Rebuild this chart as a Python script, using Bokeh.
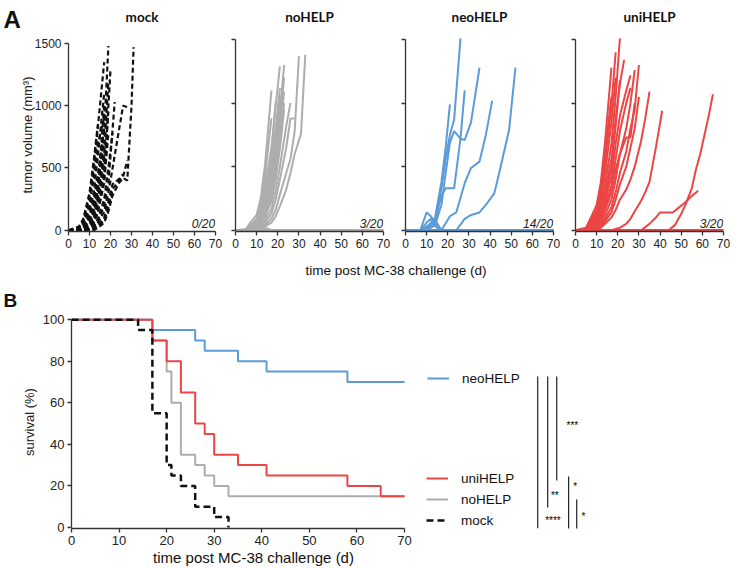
from bokeh.plotting import figure
from bokeh.layouts import row, column
from bokeh.models import Range1d, Label, Legend, LegendItem, FixedTicker
from bokeh.core.properties import value
from bokeh.embed import file_html
from bokeh.resources import INLINE

# ---------------- data: panel A (tumour growth, day / volume mm3) ----------------
group_names = ["mock", "noHELP", "neoHELP", "uniHELP"]
tumor_free = ["0/20", "3/20", "14/20", "3/20"]

mock_days = [
    [0, 5, 7, 10, 12, 14],
    [0, 5, 7, 10, 12, 14, 17],
    [0, 5, 7, 10, 12, 14, 17],
    [0, 5, 7, 10, 12, 14, 17],
    [0, 5, 7, 10, 12, 14, 17],
    [0, 5, 7, 10, 12, 14, 17],
    [0, 5, 7, 10, 12, 14, 17],
    [0, 5, 7, 10, 12, 14, 17],
    [0, 5, 7, 10, 12, 14, 17],
    [0, 5, 7, 10, 12, 14, 17, 19],
    [0, 5, 7, 10, 12, 14, 17, 19],
    [0, 5, 7, 10, 12, 14, 17, 19],
    [0, 5, 7, 10, 12, 14, 17, 19],
    [0, 5, 7, 10, 12, 14, 17, 20],
    [0, 5, 7, 10, 12, 14, 17, 19, 21],
    [0, 5, 7, 10, 12, 14, 17, 19, 22],
    [0, 5, 7, 10, 12, 14, 17, 19, 22, 24, 26, 28],
    [0, 5, 7, 10, 12, 14, 17, 19, 21, 24, 26],
    [0, 5, 7, 10, 12, 14, 17, 19, 21, 24, 26, 28],
    [0, 5, 7, 10, 12, 14, 17, 19, 21, 24, 26, 28, 30, 31],
]
mock_vols = [
    [0, 30, 90, 300, 560, 850],
    [0, 20, 70, 260, 500, 830, 1350],
    [0, 10, 40, 160, 300, 600, 1100],
    [0, 10, 60, 200, 420, 700, 900],
    [0, 0, 30, 120, 250, 450, 820],
    [0, 0, 20, 100, 220, 380, 700],
    [0, 5, 25, 80, 170, 330, 1000],
    [0, 0, 10, 60, 140, 300, 620],
    [0, 0, 0, 40, 100, 250, 560],
    [0, 0, 15, 70, 160, 350, 800, 1480],
    [0, 0, 10, 50, 120, 260, 620, 1200],
    [0, 0, 0, 30, 90, 200, 480, 950],
    [0, 0, 5, 20, 60, 150, 380, 780],
    [0, 0, 0, 20, 60, 140, 420, 1290],
    [0, 0, 0, 10, 40, 90, 250, 500, 780],
    [0, 0, 0, 10, 30, 80, 200, 380, 1030],
    [0, 0, 0, 0, 20, 60, 150, 300, 600, 800, 1000, 990],
    [0, 0, 0, 0, 10, 40, 100, 230, 370, 410, 450],
    [0, 0, 0, 0, 10, 30, 80, 180, 330, 400, 430, 560],
    [0, 0, 0, 0, 0, 20, 60, 150, 280, 380, 420, 400, 1000, 1470],
]

nohelp_days = [
    [0, 5, 7, 10, 12, 14, 17, 70],
    [0, 5, 7, 10, 12, 14, 17, 70],
    [0, 70],
    [0, 5, 7, 10, 12, 14, 17],
    [0, 5, 7, 10, 12, 14, 17],
    [0, 5, 7, 10, 12, 14, 17, 19, 21],
    [0, 5, 7, 10, 12, 14, 17, 19],
    [0, 5, 7, 10, 12, 14, 17, 19, 21],
    [0, 5, 7, 10, 12, 14, 17, 19, 21],
    [0, 5, 7, 10, 12, 14, 17, 19, 21],
    [0, 5, 7, 10, 12, 14, 17, 19, 21],
    [0, 5, 7, 10, 12, 14, 17, 19, 21, 23],
    [0, 5, 7, 10, 12, 14, 17, 19, 21, 23],
    [0, 5, 7, 10, 12, 14, 17, 19, 21, 23],
    [0, 5, 7, 10, 12, 14, 17, 19, 21, 23],
    [0, 5, 7, 10, 12, 14, 17, 19, 21, 23],
    [0, 5, 7, 10, 12, 14, 17, 19, 21, 24, 26],
    [0, 5, 7, 10, 12, 14, 17, 19, 21, 24, 26, 28],
    [0, 5, 7, 10, 12, 14, 17, 19, 21, 24, 26, 28, 30],
    [0, 5, 7, 10, 12, 14, 17, 19, 21, 24, 26, 28, 31, 33],
]
nohelp_vols = [
    [0, 0, 40, 80, 50, 20, 0, 0],
    [0, 0, 20, 60, 30, 0, 0, 0],
    [0, 0],
    [0, 10, 60, 120, 260, 520, 1100],
    [0, 0, 40, 90, 200, 430, 880],
    [0, 0, 30, 80, 170, 340, 650, 980, 1290],
    [0, 0, 20, 70, 150, 300, 600, 1010],
    [0, 0, 20, 60, 140, 280, 520, 800, 1120],
    [0, 0, 10, 50, 120, 250, 480, 760, 1060],
    [0, 0, 0, 40, 100, 210, 420, 700, 980],
    [0, 0, 15, 60, 130, 240, 440, 650, 900],
    [0, 0, 10, 40, 90, 180, 360, 600, 930, 1300],
    [0, 0, 0, 30, 70, 150, 310, 540, 850, 1200],
    [0, 0, 10, 40, 80, 160, 320, 520, 780, 1090],
    [0, 0, 0, 20, 60, 130, 270, 460, 700, 1000],
    [0, 0, 0, 20, 50, 110, 230, 400, 640, 950],
    [0, 0, 0, 10, 40, 80, 170, 310, 500, 820, 1000],
    [0, 0, 0, 10, 30, 60, 130, 240, 400, 650, 880, 880],
    [0, 0, 0, 0, 20, 40, 90, 160, 280, 450, 560, 780, 1370],
    [0, 0, 0, 0, 10, 30, 60, 110, 190, 320, 450, 600, 760, 1380],
]

neohelp_days = [
    [0, 7, 10, 12, 14, 17, 70],
    [0, 7, 10, 12, 14, 17, 70],
    [0, 7, 10, 12, 14, 17, 70],
    [0, 70], [0, 70], [0, 70], [0, 70], [0, 70], [0, 70],
    [0, 70], [0, 70], [0, 70], [0, 70], [0, 70],
    [0, 7, 10, 12, 14, 17, 19, 21],
    [0, 7, 10, 12, 14, 17, 19, 21, 23, 26],
    [0, 7, 10, 12, 14, 17, 19, 21, 23, 26, 28],
    [0, 7, 10, 12, 14, 17, 19, 21, 23, 26, 28, 31, 35],
    [0, 17, 21, 24, 28, 31, 35, 38, 41],
    [0, 24, 28, 31, 35, 38, 42, 45, 49, 52],
]
neohelp_vols = [
    [0, 0, 140, 110, 60, 0, 0],
    [0, 0, 60, 90, 30, 0, 0],
    [0, 0, 30, 50, 80, 0, 0],
    [0, 0], [0, 0], [0, 0], [0, 0], [0, 0], [0, 0],
    [0, 0], [0, 0], [0, 0], [0, 0], [0, 0],
    [0, 0, 20, 60, 100, 380, 650, 990],
    [0, 0, 10, 40, 60, 330, 560, 750, 870, 1510],
    [0, 0, 10, 30, 80, 270, 330, 330, 330, 720, 1100],
    [0, 0, 0, 20, 40, 200, 450, 690, 780, 720, 710, 850, 1280],
    [0, 0, 110, 140, 370, 490, 540, 750, 1020],
    [0, 0, 90, 120, 140, 200, 290, 500, 790, 1280],
]

unihelp_days = [
    [0, 70], [0, 70], [0, 70],
    [0, 5, 7, 10, 12, 14, 17],
    [0, 5, 7, 10, 12, 14, 17],
    [0, 5, 7, 10, 12, 14, 17, 19],
    [0, 5, 7, 10, 12, 14, 17, 19],
    [0, 5, 7, 10, 12, 14, 17, 19, 21],
    [0, 5, 7, 10, 12, 14, 17, 19, 21, 23],
    [0, 5, 7, 10, 12, 14, 17, 19, 21],
    [0, 5, 7, 10, 12, 14, 17, 19, 21, 24, 26],
    [0, 5, 7, 10, 12, 14, 17, 19, 21, 24, 26],
    [0, 5, 7, 10, 12, 14, 17, 19, 21, 24, 26, 28],
    [0, 5, 7, 10, 12, 14, 17, 19, 21, 24, 26, 28],
    [0, 5, 7, 10, 12, 14, 17, 19, 21, 24, 26, 28, 30],
    [0, 5, 7, 10, 12, 14, 17, 19, 21, 24, 26, 28, 30],
    [0, 5, 7, 10, 12, 14, 17, 19, 21, 24, 26, 28, 31, 33, 35],
    [0, 17, 19, 21, 24, 26, 28, 31, 33, 35, 38, 41],
    [0, 31, 35, 38, 40, 42, 46, 49, 52, 55, 58],
    [0, 44, 47, 50, 52, 55, 57, 59, 61, 63, 65],
]
unihelp_vols = [
    [0, 0], [0, 0], [0, 0],
    [0, 20, 90, 200, 380, 700, 1280],
    [0, 10, 70, 160, 320, 620, 1050],
    [0, 10, 50, 140, 280, 540, 980, 1400],
    [0, 0, 30, 110, 230, 450, 850, 1200],
    [0, 0, 20, 90, 190, 360, 680, 1050, 1510],
    [0, 0, 20, 70, 150, 300, 560, 880, 1150, 1340],
    [0, 0, 10, 60, 130, 260, 500, 820, 1180],
    [0, 0, 10, 50, 110, 220, 420, 680, 900, 1100, 1220],
    [0, 0, 0, 40, 90, 180, 350, 560, 780, 1000, 1120],
    [0, 0, 0, 30, 80, 160, 300, 480, 600, 730, 730, 1000],
    [0, 0, 0, 20, 60, 120, 240, 400, 600, 800, 1000, 1260],
    [0, 0, 0, 10, 40, 90, 180, 300, 450, 620, 800, 950, 1300],
    [0, 0, 0, 10, 30, 70, 140, 240, 360, 500, 650, 800, 1050],
    [0, 0, 0, 0, 20, 50, 100, 160, 240, 320, 400, 500, 700, 880, 1090],
    [0, 0, 10, 20, 50, 90, 150, 230, 300, 380, 650, 940],
    [0, 0, 50, 100, 140, 140, 140, 180, 220, 270, 310],
    [0, 0, 40, 130, 200, 330, 480, 600, 750, 900, 1070],
]

# ---------------- data: panel B (Kaplan-Meier survival, %) ----------------
neo_t = [0, 17, 26, 28, 35, 41, 58, 70]
neo_s = [100, 95, 90, 85, 80, 75, 70, 70]
uni_t = [0, 17, 20, 23, 26, 28, 30, 35, 41, 58, 65, 70]
uni_s = [100, 90, 80, 65, 50, 45, 35, 30, 25, 20, 15, 15]
no_t = [0, 17, 20, 21, 23, 26, 28, 30, 33, 70]
no_s = [100, 90, 75, 60, 35, 30, 25, 20, 15, 15]
mock_t = [0, 14, 17, 20, 21, 23, 26, 30, 33]
mock_s = [100, 95, 55, 30, 25, 20, 10, 5, 0]

# significance brackets (x in days right of the axis, y in survival %)
sig_x = [98.0, 100.1, 102.0, 104.5, 106.2]
sig_y0 = [-0.5, 9.6, 22.6, -1.4, -1.4]
sig_y1 = [72.6, 72.6, 72.6, 24.5, 13.5]
star_x = [101.2, 101.6, 105.3, 105.9, 107.6]
star_y = [3.2, 15.6, 49.0, 19.8, 5.4]
star_text = ["****", "**", "***", "*", "*"]

# ---------------- styling / geometry ----------------
FONT = "Liberation Sans"
TFONT = "Lato"
AX = "#333333"
BLUE = "#5B9BD8"
RED = "#EC4545"
GRAY = "#ADADAD"
BLACK = "#111111"

widths = [225, 170, 170, 170]
lefts = [68, 10, 10, 10]
rights = [10, 12, 12, 12]
tops = [6, 2, 2, 2]
frame_h = [193, 197, 197, 197]
ROW_A_H = 223


def style_axes(p, xt, yt, xb, yb, size):
    p.xgrid.visible = False
    p.ygrid.visible = False
    p.outline_line_color = None
    p.background_fill_color = None
    p.border_fill_color = None
    p.xaxis.ticker = FixedTicker(ticks=xt)
    p.yaxis.ticker = FixedTicker(ticks=yt)
    p.xaxis.bounds = xb
    p.yaxis.bounds = yb
    for ax in (p.xaxis[0], p.yaxis[0]):
        ax.axis_line_color = AX
        ax.axis_line_width = 1.3
        ax.major_tick_line_color = AX
        ax.major_tick_line_width = 1.3
        ax.major_tick_in = 0
        ax.major_tick_out = 4
        ax.minor_tick_in = 0
        ax.minor_tick_out = 0
        ax.major_label_text_font = FONT
        ax.major_label_text_font_size = size
        ax.major_label_text_color = "#222222"
        ax.major_label_standoff = 3
        ax.axis_label_text_font = FONT
        ax.axis_label_text_font_style = "normal"
        ax.axis_label_text_color = "#222222"


def strip(w, h):
    s = figure(width=w, height=h, x_range=Range1d(0, w), y_range=Range1d(h, 0),
               x_axis_type=None, y_axis_type=None, output_backend="svg",
               toolbar_location=None, title=None, min_border=0, frame_align=False)
    s.outline_line_color = None
    s.background_fill_color = None
    s.border_fill_color = None
    s.xgrid.visible = False
    s.ygrid.visible = False
    return s


TOTAL_W = sum(widths)

groups_days = [mock_days, nohelp_days, neohelp_days, unihelp_days]
groups_vols = [mock_vols, nohelp_vols, neohelp_vols, unihelp_vols]
colors = [BLACK, GRAY, BLUE, RED]

panels = []
centers = []
frame_lefts = []
frame_rights = []
off = 0
for i in range(4):
    p = figure(width=widths[i], height=ROW_A_H, x_range=Range1d(0, 70), y_range=Range1d(-10, 1540),
               output_backend="svg", toolbar_location=None, title=None, frame_align=False,
               min_border_left=lefts[i], min_border_right=rights[i],
               min_border_top=tops[i], min_border_bottom=ROW_A_H - tops[i] - frame_h[i])
    style_axes(p, [0, 10, 20, 30, 40, 50, 60, 70], [0, 500, 1000, 1500], (0, 70), (0, 1500), "12px")
    if i == 0:
        p.multi_line(xs=groups_days[i], ys=groups_vols[i], line_color=colors[i], line_width=2.2,
                     line_dash="5 3")
        p.yaxis.axis_label = "tumor volume (mm³)"
        p.yaxis.axis_label_text_font_size = "13px"
        p.yaxis.axis_label_standoff = -3
    else:
        p.multi_line(xs=groups_days[i], ys=groups_vols[i], line_color=colors[i], line_width=2)
        p.yaxis.major_label_text_font_size = "0px"
        p.yaxis.major_label_text_color = None
    p.add_layout(Label(x=69.8, y=50, text=tumor_free[i], text_font=FONT, text_font_style="italic",
                       text_font_size="12px", text_align="right", text_baseline="alphabetic",
                       text_color="#222222"))
    fl = off + lefts[i]
    fr = off + widths[i] - rights[i]
    frame_lefts.append(fl)
    frame_rights.append(fr)
    centers.append((fl + fr) / 2)
    off += widths[i]
    panels.append(p)

# header strip: panel letter A and group titles
head = strip(TOTAL_W, 32)
head.text(x=centers, y=[16] * 4, text=group_names, text_font=value(TFONT), text_font_style="bold",
          text_font_size=value("13.5px"), text_align="center", text_baseline="middle",
          text_color="#111111")
head.text(x=[3], y=[19], text=["A"], text_font=value(FONT), text_font_style="bold",
          text_font_size=value("24px"), text_align="left", text_baseline="middle", text_color="#111111")

# middle strip: shared x label of panel A and letter B
mid = strip(TOTAL_W, 57)
mid.text(x=[(frame_lefts[0] + frame_rights[3]) / 2], y=[15], text=["time post MC-38 challenge (d)"],
         text_font=value(FONT), text_font_size=value("13.5px"), text_align="center",
         text_baseline="middle", text_color="#111111")
mid.text(x=[3], y=[45], text=["B"], text_font=value(FONT), text_font_style="bold",
         text_font_size=value("19px"), text_align="left", text_baseline="middle", text_color="#111111")

# ---------------- panel B ----------------
PB_LEFT = 71
PB_RIGHT = 16
PX_PER_DAY = 333 / 70
pb = figure(width=TOTAL_W, height=238,
            x_range=Range1d(0, (TOTAL_W - PB_LEFT - PB_RIGHT) / PX_PER_DAY), y_range=Range1d(-0.5, 102),
            output_backend="svg", toolbar_location=None, title=None, frame_align=False,
            min_border_left=PB_LEFT, min_border_right=PB_RIGHT, min_border_top=3, min_border_bottom=22)
style_axes(pb, [0, 10, 20, 30, 40, 50, 60, 70], [0, 20, 40, 60, 80, 100], (0, 70), (0, 100), "13px")
pb.yaxis.axis_label = "survival (%)"
pb.yaxis.axis_label_text_font_size = "13px"
pb.yaxis.axis_label_standoff = 3

r_neo = pb.step(x=neo_t, y=neo_s, mode="after", line_color=BLUE, line_width=2)
r_no = pb.step(x=no_t, y=no_s, mode="after", line_color=GRAY, line_width=2)
r_uni = pb.step(x=uni_t, y=uni_s, mode="after", line_color=RED, line_width=2)
r_mock = pb.step(x=mock_t, y=mock_s, mode="after", line_color=BLACK, line_width=2.5, line_dash="7 4")

leg_kw = dict(label_text_font=FONT, label_text_font_size="13.5px", label_text_color="#111111",
              glyph_width=22, glyph_height=16, label_height=16, label_standoff=13, spacing=5,
              padding=0, margin=0, border_line_color=None, background_fill_alpha=0)
leg1 = Legend(items=[LegendItem(label="neoHELP", renderers=[r_neo])], location=(356, 142), **leg_kw)
leg2 = Legend(items=[LegendItem(label="uniHELP", renderers=[r_uni]),
                     LegendItem(label="noHELP", renderers=[r_no]),
                     LegendItem(label="mock", renderers=[r_mock])], location=(355, 0), **leg_kw)
pb.add_layout(leg1, "center")
pb.add_layout(leg2, "center")

pb.segment(x0=sig_x, y0=sig_y0, x1=sig_x, y1=sig_y1, line_color="#222222", line_width=1.2)
pb.text(x=star_x, y=star_y, text=star_text, text_font=value(FONT), text_font_size=value("10px"),
        text_align="center", text_baseline="middle", text_color="#000000")

# bottom strip: x label of panel B
bot = strip(TOTAL_W, 17)
bot.text(x=[253], y=[7], text=["time post MC-38 challenge (d)"], text_font=value(FONT),
         text_font_size=value("15px"), text_align="center", text_baseline="middle", text_color="#111111")

layout = column(head, row(*panels), mid, pb, bot)
open("out.html", "w").write(file_html(layout, INLINE))
